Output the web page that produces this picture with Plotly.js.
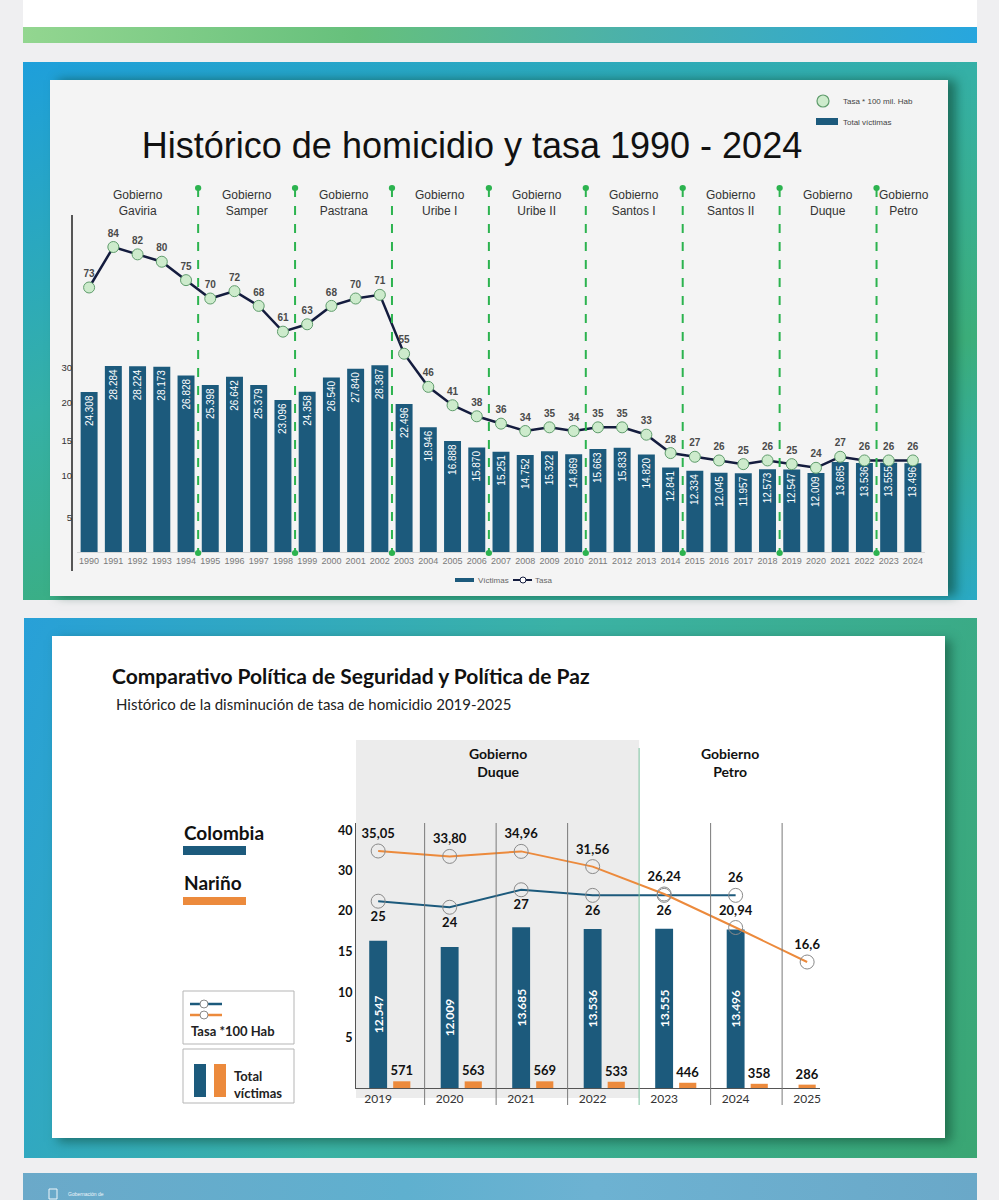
<!DOCTYPE html>
<html>
<head>
<meta charset="utf-8">
<script src="https://cdn.plot.ly/plotly-3.0.1.min.js"></script>
<style>
  body{margin:0;background:#efeff1;}
  #wrap{position:relative;width:999px;height:1200px;overflow:hidden;background:#efeff1;}
  .d{position:absolute;}
  #topwhite{left:23px;top:0;width:954px;height:27px;background:#fff;}
  #topbar{left:23px;top:27px;width:954px;height:16px;background:linear-gradient(to right,#93d690,#66c07c 35%,#49b0ad 65%,#27a6de);}
  #card1{left:23px;top:62px;width:954px;height:538px;background:linear-gradient(160deg,#1e9fdb 0%,#35b0a6 40%,#3cae7a 70%,#2aa9c4 100%);}
  #panel1{left:50px;top:80px;width:898px;height:516px;background:#f4f4f4;box-shadow:8px 0 10px rgba(10,60,40,.55);}
  #card2{left:24px;top:618px;width:953px;height:540px;background:linear-gradient(115deg,#28a0d8 0%,#3bb2a5 45%,#3aa673 100%);}
  #panel2{left:52px;top:636px;width:893px;height:502px;background:#fff;box-shadow:6px 4px 10px rgba(10,60,40,.5);}
  #footer{left:23px;top:1173px;width:954px;height:27px;background:linear-gradient(to right,#6ba9c9,#5fb0cf 40%,#6db2d2 60%,#6aa8c8);}
  #chart{position:absolute;left:0;top:0;width:999px;height:1200px;}
</style>
</head>
<body>
<div id="wrap">
  <div class="d" id="topwhite"></div>
  <div class="d" id="topbar"></div>
  <div class="d" id="card1"></div>
  <div class="d" id="panel1"></div>
  <div class="d" id="card2"></div>
  <div class="d" id="panel2"></div>
  <div class="d" id="footer"></div>
  <div id="chart"></div>
</div>
<script>
// ---------- DATA: chart 1 ----------
const years = ['1990','1991','1992','1993','1994','1995','1996','1997','1998','1999',
               '2000','2001','2002','2003','2004','2005','2006','2007','2008','2009',
               '2010','2011','2012','2013','2014','2015','2016','2017','2018','2019',
               '2020','2021','2022','2023','2024'];
const victimas = [24308,28284,28224,28173,26828,25398,26642,25379,23096,24358,
                  26540,27840,28387,22496,18946,16888,15870,15251,14752,15322,
                  14869,15663,15833,14820,12841,12334,12045,11957,12573,12547,
                  12009,13685,13536,13555,13496];
const tasa = [73,84,82,80,75,70,72,68,61,63,
              68,70,71,55,46,41,38,36,34,35,
              34,35,35,33,28,27,26,25,26,25,
              24,27,26,26,26];
const govNames = ['Gaviria','Samper','Pastrana','Uribe I','Uribe II','Santos I','Santos II','Duque','Petro'];
const govStart = ['1990','1995','1999','2003','2007','2011','2015','2019','2023'];
const topTickText = ['30','20','15','10','5'];
const topTickVals = [27968,22648,16872,11552,5168];

// ---------- DATA: chart 2 ----------
const years2 = [2019,2020,2021,2022,2023,2024,2025];
const colTasa = [25,24,27,26,26,26];
const narTasa = [35.05,33.80,34.96,31.56,26.24,20.94,16.6];
const narTasaFmt = ['.2f','.2f','.2f','.2f','.2f','.2f','.1f'];
const colVict = [12547,12009,13685,13536,13555,13496];
const narVict = [571,563,569,533,446,358,286];
const duqueYears = [2019,2020,2021,2022];
const petroYears = [2023,2024,2025];
const botTickText = ['40','30','20','15','10','5'];
const botTickVals = [21891,18484,15077,11584,8092,4259];

// ---------- helpers ----------
const X = px => px/999;
const Y = py => 1 - py/1200;
const F1 = 'Liberation Sans, Arial, sans-serif';
const F2 = 'Lato, Open Sans, sans-serif';
const BLUE = '#1c5a7c';
const ORANGE = '#ec8a3c';
const GREEN = '#2cb34f';

// ---------- traces ----------
const traces = [
  {type:'bar', x:years, y:victimas, xaxis:'x', yaxis:'y',
   marker:{color:BLUE}, texttemplate:'%{y:,}', textposition:'inside',
   insidetextanchor:'end', textangle:-90, constraintext:'none',
   insidetextfont:{family:F1, size:10, color:'#ffffff'}, hoverinfo:'skip'},
  {type:'scatter', mode:'lines+markers+text', x:years, y:tasa, xaxis:'x', yaxis:'y2',
   line:{color:'#141c3e', width:2.5},
   marker:{size:11, color:'#cdebcc', line:{color:'#5f9c6c', width:1}},
   text:tasa.map(String), textposition:'top center',
   textfont:{family:F1, size:10, color:'#4a4a4a', weight:'bold'}, cliponaxis:false, hoverinfo:'skip'},
  {type:'bar', x:years2.slice(0,colVict.length), y:colVict, xaxis:'x3', yaxis:'y3',
   width:0.25, offset:-0.125, marker:{color:BLUE}, constraintext:'none',
   texttemplate:'%{y:,}', textposition:'inside', insidetextanchor:'middle', textangle:-90,
   insidetextfont:{family:F2, size:12, color:'#ffffff', weight:'bold'}, hoverinfo:'skip'},
  {type:'bar', x:years2, y:narVict, xaxis:'x3', yaxis:'y3',
   width:0.24, offset:narVict.map((v,i) => colVict[i] === undefined ? -0.12 : 0.21),
   marker:{color:ORANGE}, constraintext:'none',
   texttemplate:'%{y}', textposition:'outside', textangle:0, cliponaxis:false,
   outsidetextfont:{family:F2, size:13, color:'#111', weight:'bold'}, hoverinfo:'skip'},
  {type:'scatter', mode:'lines+markers+text', x:years2.slice(0,colTasa.length), y:colTasa,
   xaxis:'x3', yaxis:'y4',
   line:{color:BLUE, width:2},
   marker:{symbol:'circle-open', size:14, color:'#8a8a8a', line:{width:1}},
   text:colTasa.map(String),
   textposition:colTasa.map((v,i)=> i===colTasa.length-1 ? 'top center' : 'bottom center'),
   textfont:{family:F2, size:13, color:'#111', weight:'bold'}, cliponaxis:false, hoverinfo:'skip'},
  {type:'scatter', mode:'lines+markers+text', x:years2, y:narTasa, xaxis:'x3', yaxis:'y4',
   line:{color:ORANGE, width:2},
   marker:{symbol:'circle-open', size:14, color:'#8a8a8a', line:{width:1}},
   texttemplate:narTasaFmt.map(f => '%{y:' + f + '}'),
   textposition:'top center',
   textfont:{family:F2, size:13, color:'#111', weight:'bold'}, cliponaxis:false, hoverinfo:'skip'}
];

// ---------- shapes & annotations ----------
const shapes = [];
const ann = [];
function note(o){ ann.push(Object.assign({showarrow:false, xanchor:'center', yanchor:'middle'}, o)); }

// chart 1: y axis line
shapes.push({type:'line', xref:'paper', yref:'paper', x0:X(72), x1:X(72), y0:Y(215), y1:Y(571),
             line:{color:'#222', width:1.5}});
// government boundaries + labels
const bounds = govStart.map(s => years.indexOf(s) - 0.5);
bounds.forEach((b,i) => {
  if (i > 0) {
    shapes.push({type:'line', xref:'x', yref:'paper', x0:b, x1:b, y0:Y(188), y1:Y(553),
                 line:{color:GREEN, width:2, dash:'dash'}});
    [188,553].forEach(py => shapes.push({type:'circle', xref:'x', yref:'paper',
      x0:b-0.13, x1:b+0.13, y0:Y(py+3), y1:Y(py-3), fillcolor:GREEN, line:{width:0}}));
  }
  const hi = i < bounds.length-1 ? bounds[i+1] : years.length - 0.5;
  note({xref:'x', yref:'paper', x:(b+hi)/2 + (i === bounds.length-1 ? 0.15 : 0), y:Y(203),
        text:'Gobierno<br>'+govNames[i], font:{family:F1, size:12, color:'#333'}});
});
// chart 1 legend top-right
shapes.push({type:'circle', xref:'paper', yref:'paper', x0:X(817), x1:X(829), y0:Y(107), y1:Y(95),
             fillcolor:'#cdebcc', line:{color:'#5f9c6c', width:1.2}});
shapes.push({type:'rect', xref:'paper', yref:'paper', x0:X(816), x1:X(838), y0:Y(125), y1:Y(118),
             fillcolor:BLUE, line:{width:0}});
note({xref:'paper', yref:'paper', x:X(841), y:Y(101), text:'Tasa * 100 mil. Hab',
      xanchor:'left', font:{family:F1, size:8, color:'#444'}});
note({xref:'paper', yref:'paper', x:X(841), y:Y(122), text:'Total víctimas',
      xanchor:'left', font:{family:F1, size:8, color:'#444'}});
// chart 1 legend bottom
shapes.push({type:'rect', xref:'paper', yref:'paper', x0:X(455), x1:X(474), y0:Y(582), y1:Y(578),
             fillcolor:BLUE, line:{width:0}});
note({xref:'paper', yref:'paper', x:X(476), y:Y(580), text:'Víctimas',
      xanchor:'left', font:{family:F1, size:8, color:'#666'}});
shapes.push({type:'line', xref:'paper', yref:'paper', x0:X(513), x1:X(532), y0:Y(580), y1:Y(580),
             line:{color:'#141c3e', width:2}});
shapes.push({type:'circle', xref:'paper', yref:'paper', x0:X(520), x1:X(526), y0:Y(583), y1:Y(577),
             fillcolor:'#ffffff', line:{color:'#141c3e', width:1}});
note({xref:'paper', yref:'paper', x:X(533), y:Y(580), text:'Tasa',
      xanchor:'left', font:{family:F1, size:8, color:'#666'}});

// chart 2 titles
note({xref:'paper', yref:'paper', x:X(110), y:Y(675), text:'Comparativo Política de Seguridad y Política de Paz',
      xanchor:'left', font:{family:F2, size:21, color:'#111', weight:'bold'}});
note({xref:'paper', yref:'paper', x:X(114), y:Y(704), text:'Histórico de la disminución de tasa de homicidio 2019-2025',
      xanchor:'left', font:{family:F2, size:15, color:'#222'}});
// Duque shading & government labels
const duqueEnd = duqueYears[duqueYears.length-1] + 0.65;
shapes.push({type:'rect', xref:'x3', yref:'paper', x0:2018.69, x1:duqueEnd, y0:Y(1098), y1:Y(740),
             fillcolor:'#ececec', line:{width:0}, layer:'below'});
note({xref:'x3', yref:'paper', x:(2018.69+duqueEnd)/2, y:Y(762), text:'Gobierno<br>Duque',
      font:{family:F2, size:14, color:'#111', weight:'bold'}});
note({xref:'x3', yref:'paper', x:(duqueEnd+2025.18)/2, y:Y(762), text:'Gobierno<br>Petro',
      font:{family:F2, size:14, color:'#111', weight:'bold'}});
// separators
years2.slice(0, years2.length-1).forEach(yr => {
  const isGov = (yr === duqueYears[duqueYears.length-1]);
  shapes.push({type:'line', xref:'x3', yref:'paper', x0:yr+0.65, x1:yr+0.65,
               y0:Y(1105), y1:Y(isGov ? 748 : 823),
               line:{color: isGov ? '#79c19d' : '#7a7a7a', width:1}});
});
// left legend chart 2
note({xref:'paper', yref:'paper', x:X(182), y:Y(832), text:'Colombia',
      xanchor:'left', font:{family:F2, size:19, color:'#111', weight:'bold'}});
shapes.push({type:'rect', xref:'paper', yref:'paper', x0:X(183), x1:X(246), y0:Y(855), y1:Y(846),
             fillcolor:BLUE, line:{width:0}});
note({xref:'paper', yref:'paper', x:X(182), y:Y(882), text:'Nariño',
      xanchor:'left', font:{family:F2, size:19, color:'#111', weight:'bold'}});
shapes.push({type:'rect', xref:'paper', yref:'paper', x0:X(183), x1:X(246), y0:Y(905), y1:Y(897),
             fillcolor:ORANGE, line:{width:0}});
shapes.push({type:'rect', xref:'paper', yref:'paper', x0:X(183), x1:X(294), y0:Y(1044), y1:Y(991),
             fillcolor:'rgba(0,0,0,0)', line:{color:'#b5b5b5', width:1}});
[[1004,BLUE],[1015,ORANGE]].forEach(([py,c]) => {
  shapes.push({type:'line', xref:'paper', yref:'paper', x0:X(190), x1:X(222), y0:Y(py), y1:Y(py),
               line:{color:c, width:2.5}});
  shapes.push({type:'circle', xref:'paper', yref:'paper', x0:X(200), x1:X(208), y0:Y(py+4), y1:Y(py-4),
               fillcolor:'#ffffff', line:{color:'#8a8a8a', width:1}});
});
note({xref:'paper', yref:'paper', x:X(189), y:Y(1031), text:'Tasa *100 Hab',
      xanchor:'left', font:{family:F2, size:13, color:'#222', weight:'bold'}});
shapes.push({type:'rect', xref:'paper', yref:'paper', x0:X(183), x1:X(294), y0:Y(1103), y1:Y(1049),
             fillcolor:'rgba(0,0,0,0)', line:{color:'#b5b5b5', width:1}});
shapes.push({type:'rect', xref:'paper', yref:'paper', x0:X(194), x1:X(206), y0:Y(1097), y1:Y(1064),
             fillcolor:BLUE, line:{width:0}});
shapes.push({type:'rect', xref:'paper', yref:'paper', x0:X(214), x1:X(226), y0:Y(1097), y1:Y(1064),
             fillcolor:ORANGE, line:{width:0}});
note({xref:'paper', yref:'paper', x:X(232), y:Y(1084), text:'Total<br>víctimas',
      xanchor:'left', align:'left', font:{family:F2, size:13, color:'#222', weight:'bold'}});
// footer
shapes.push({type:'rect', xref:'paper', yref:'paper', x0:X(49), x1:X(57), y0:Y(1199), y1:Y(1189),
             fillcolor:'rgba(255,255,255,0)', line:{color:'#eef6fa', width:1}});
note({xref:'paper', yref:'paper', x:X(66), y:Y(1194), text:'Gobernación de',
      xanchor:'left', font:{family:F1, size:5, color:'#eef6fa'}});

const layout = {
  width:999, height:1200, margin:{l:0,r:0,t:0,b:0},
  paper_bgcolor:'rgba(0,0,0,0)', plot_bgcolor:'rgba(0,0,0,0)',
  showlegend:false, separators:',.', barmode:'overlay', bargap:0.3,
  title:{text:'Histórico de homicidio y tasa 1990 - 2024', x:472/999, y:Y(145), xanchor:'center', yanchor:'middle',
         xref:'paper', yref:'paper', font:{family:F1, size:36, color:'#111'}},
  xaxis:{domain:[X(77), X(925)], type:'category', range:[-0.5, years.length-0.5], anchor:'y',
         showgrid:false, ticks:'', showline:true, linecolor:'#d6d6d6', linewidth:1,
         tickfont:{family:F1, size:9, color:'#7a7a7a'}, fixedrange:true},
  yaxis:{domain:[Y(552), Y(215)], range:[0, 51224], anchor:'free', position:X(72),
         tickvals:topTickVals, ticktext:topTickText, ticks:'', showgrid:false, zeroline:false, showline:false,
         tickfont:{family:F1, size:9.5, color:'#333'}, fixedrange:true},
  yaxis2:{overlaying:'y', range:[1.12, 92.7], visible:false, fixedrange:true},
  xaxis3:{domain:[X(356), X(820)], range:[2018.69, 2025.18], anchor:'y3',
          tickvals:years2, ticktext:years2.map(String), ticks:'', showgrid:false, zeroline:false,
          showline:true, linecolor:'#555', linewidth:1,
          tickfont:{family:F2, size:12, color:'#333'}, fixedrange:true},
  yaxis3:{domain:[Y(1088), Y(823)], range:[0, 22572], anchor:'x3',
          tickvals:botTickVals, ticktext:botTickText, ticks:'', showgrid:false, zeroline:false,
          showline:true, linecolor:'#555', linewidth:1,
          tickfont:{family:F2, size:12.5, color:'#111', weight:'bold'}, fixedrange:true},
  yaxis4:{overlaying:'y3', type:'log', range:[0.8517, 1.6266], visible:false, fixedrange:true},
  shapes:shapes, annotations:ann
};

Plotly.newPlot('chart', traces, layout, {displayModeBar:false, staticPlot:true});
</script>
</body>
</html>
